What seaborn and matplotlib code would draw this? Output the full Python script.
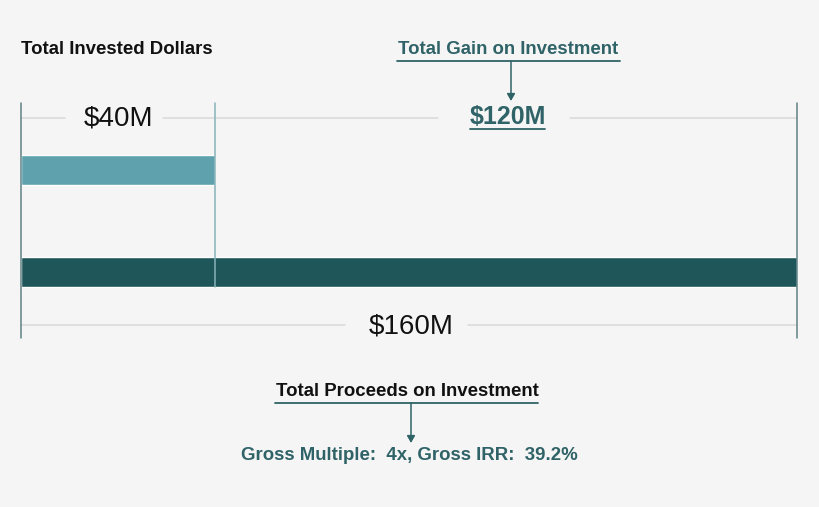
import matplotlib
matplotlib.use("Agg")
import matplotlib.pyplot as plt
import matplotlib.transforms as mtransforms
import seaborn as sns
import pandas as pd

# ---- data ----
bar_labels = ["Total Invested Dollars", "Total Proceeds on Investment"]
bar_values = [40, 160]           # $M
gain_value = 120                 # $M
gross_multiple = "4x"
gross_irr = "39.2%"

BG = "#f5f5f5"
LIGHT = "#5fa2ad"
DARK = "#1f5659"
TEAL_TXT = "#2f6367"
GRID = "#d9d9d9"
VLINE = "#5f8185"
VLINE_MID = "#86b3ba"

sns.set_theme(style="white")
plt.rcParams["font.family"] = ["Liberation Sans", "DejaVu Sans"]

W, H = 820, 507
fig = plt.figure(figsize=(W / 100, H / 100), dpi=100, facecolor=BG)
ax = fig.add_axes([0, 0, 1, 1])
ax.set_facecolor(BG)

df = pd.DataFrame({"label": bar_labels, "value": bar_values})
sns.barplot(data=df, y="label", x="value", hue="label",
            palette=[LIGHT, DARK], width=0.294, legend=False,
            ax=ax, saturation=1, zorder=2)

# axis framing: value 0 at px 21, value 160 at px 797
scale = 776 / 160
ax.set_xlim(-21 / scale, (W - 21) / scale)
ax.set_ylim((H - 170) / 102, -170 / 102)
ax.axis("off")

# pixel transform (x right, y down from top)
pix = mtransforms.Affine2D().scale(1 / W, -1 / H).translate(0, 1) + fig.transFigure
xdata_ypix = mtransforms.blended_transform_factory(ax.transData, pix)

# vertical guides
total = bar_values[1]
ax.plot([0, 0], [103, 338], color=VLINE, lw=1.1, transform=xdata_ypix, zorder=3)
ax.plot([total, total], [103, 338], color=VLINE, lw=1.1, transform=xdata_ypix, zorder=3)
ax.plot([bar_values[0], bar_values[0]], [103, 287], color=VLINE_MID, lw=1.1,
        transform=xdata_ypix, zorder=3)

# horizontal guides with gaps for labels
for x0, x1 in [(21, 65), (163, 438), (570, 797)]:
    ax.plot([x0, x1], [118, 118], color=GRID, lw=1.1, transform=pix, zorder=1)
for x0, x1 in [(21, 345), (468, 797)]:
    ax.plot([x0, x1], [325, 325], color=GRID, lw=1.1, transform=pix, zorder=1)

# value labels
ax.text(118, 118, f"${bar_values[0]}M", transform=pix, ha="center", va="center",
        fontsize=20, color="#111111")
ax.text(508, 117, f"${gain_value}M", transform=pix, ha="center", va="center",
        fontsize=18, fontweight="bold", color=TEAL_TXT)
ax.plot([470, 545], [129, 129], color=TEAL_TXT, lw=1.3, transform=pix)
ax.text(411, 327, f"${total}M", transform=pix, ha="center", va="center",
        fontsize=20, color="#111111")

# headings
FS = 13.4
ax.text(21, 49, bar_labels[0], transform=pix, ha="left", va="center",
        fontsize=FS, fontweight="bold", color="#111111")
ax.text(508, 49, "Total Gain on Investment", transform=pix, ha="center", va="center",
        fontsize=FS, fontweight="bold", color=TEAL_TXT)
ax.plot([397, 620], [61, 61], color=TEAL_TXT, lw=1.3, transform=pix)
ax.annotate("", xy=(511, 101), xytext=(511, 61), xycoords=pix, textcoords=pix,
            arrowprops=dict(arrowstyle="-|>,head_length=0.35,head_width=0.2",
                            color=TEAL_TXT, lw=1.1, shrinkA=0, shrinkB=0))

ax.text(407, 391, bar_labels[1], transform=pix, ha="center", va="center",
        fontsize=FS, fontweight="bold", color="#111111")
ax.plot([275, 538], [403, 403], color=TEAL_TXT, lw=1.3, transform=pix)
ax.annotate("", xy=(411, 443), xytext=(411, 403), xycoords=pix, textcoords=pix,
            arrowprops=dict(arrowstyle="-|>,head_length=0.35,head_width=0.2",
                            color=TEAL_TXT, lw=1.1, shrinkA=0, shrinkB=0))
ax.text(409, 456, f"Gross Multiple:  {gross_multiple}, Gross IRR:  {gross_irr}",
        transform=pix, ha="center", va="center", fontsize=FS, fontweight="bold",
        color=TEAL_TXT)

fig.savefig("out.png", dpi=100, facecolor=BG)
